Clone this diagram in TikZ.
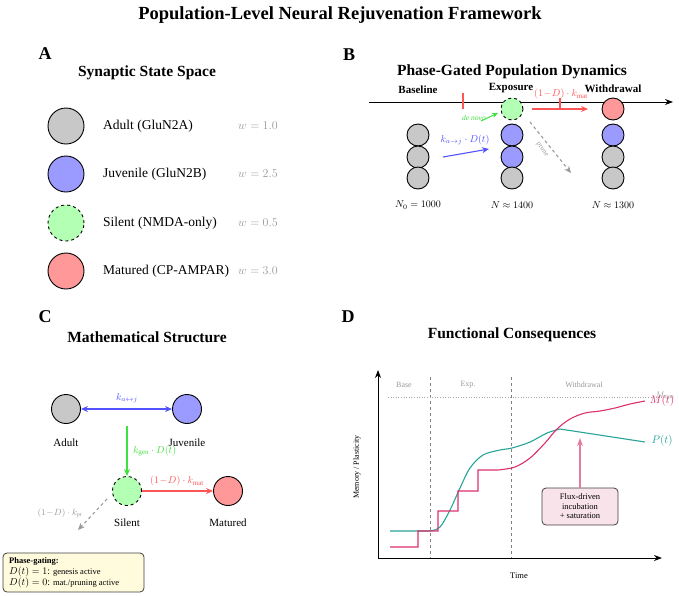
\documentclass[tikz,border=0pt]{standalone}
\usepackage{fontspec}
\setmainfont{Liberation Serif}
\usetikzlibrary{arrows.meta}
\definecolor{adultfill}{HTML}{C8C8C8}
\definecolor{juvfill}{HTML}{9B9BFF}
\definecolor{silfill}{HTML}{B3FFB3}
\definecolor{matfill}{HTML}{FF9999}
\definecolor{bluearr}{HTML}{5252FF}
\definecolor{greenarr}{HTML}{3FE03F}
\definecolor{redarr}{HTML}{FF5555}
\definecolor{tealc}{HTML}{27A398}
\definecolor{magc}{HTML}{DC2F6E}
\definecolor{notegray}{HTML}{999999}
\definecolor{boxyellow}{HTML}{FFFBDC}
\definecolor{boxpink}{HTML}{F9E3EA}
\definecolor{pinkarr}{HTML}{E67BA0}
\newcommand\fsz[1]{\fontsize{#1}{#1}\selectfont}
\tikzset{
  panelletter/.style={font=\fsz{18}\bfseries, inner sep=0},
  paneltitle/.style={font=\fsz{15.5}\bfseries, inner sep=0},
  state/.style={circle, draw=black, line width=0.9pt, minimum size=#1, inner sep=0},
  adult/.style={state=#1, fill=adultfill},
  juv/.style={state=#1, fill=juvfill},
  sil/.style={state=#1, fill=silfill, dashed},
  mat/.style={state=#1, fill=matfill},
  legendtxt/.style={font=\fsz{13.5}, anchor=west, inner sep=0},
  weighttxt/.style={font=\fsz{12}, text=notegray, inner sep=0},
  phasetxt/.style={font=\fsz{11}\bfseries, inner sep=0},
  smalltxt/.style={font=\fsz{10}, inner sep=0},
  statelbl/.style={font=\fsz{11}, inner sep=0},
  flow/.style={-{Stealth[length=7pt,width=6pt]}, line width=1.1pt},
  phasetick/.style={draw=redarr, line width=1.2pt},
  notebox/.style={draw=black!75, rounded corners=4pt, line width=0.8pt},
  plotlbl/.style={font=\fsz{8}, text=notegray, inner sep=0},
}
\begin{document}
\begin{tikzpicture}[x=1pt,y=-1pt]
\useasboundingbox (0,0) rectangle (679,595);

% ---------- title ----------
\node[font=\fsz{18.5}\bfseries, inner sep=0] (title) at (340,15) {Population-Level Neural Rejuvenation Framework};

% ---------- A: synaptic state space ----------
\node[panelletter] (lA) at (45,54) {A};
\node[paneltitle] (tA) at (147,73) {Synaptic State Space};
\node[adult=36] (sA) at (66,126) {};
\node[juv=36]   (sJ) at (66,174) {};
\node[sil=36]   (sS) at (66,223) {};
\node[mat=36]   (sM) at (66,271) {};
\node[legendtxt] (lbA) at (103,126) {Adult (GluN2A)};
\node[legendtxt] (lbJ) at (103,174) {Juvenile (GluN2B)};
\node[legendtxt] (lbS) at (103,223) {Silent (NMDA-only)};
\node[legendtxt] (lbM) at (103,271) {Matured (CP-AMPAR)};
\node[weighttxt] (wA) at (258,126) {$w = 1.0$};
\node[weighttxt] (wJ) at (258,174) {$w = 2.5$};
\node[weighttxt] (wS) at (258,223) {$w = 0.5$};
\node[weighttxt] (wM) at (258,271) {$w = 3.0$};

% ---------- B: phase-gated population dynamics ----------
\node[panelletter] (lB) at (349,55) {B};
\node[paneltitle] (tB) at (512,72) {Phase-Gated Population Dynamics};
\coordinate (axL) at (369,102);
\coordinate (axR) at (673,102);
\draw[-{Stealth[length=8pt,width=6pt]}, line width=1pt] (axL) -- (axR);
\node[phasetxt] (phB) at (418,90) {Baseline};
\node[phasetxt] (phE) at (511,88) {Exposure};
\node[phasetxt] (phW) at (613,89) {Withdrawal};
\coordinate (tk1a) at (463,93);  \coordinate (tk1b) at (463,109);
\coordinate (tk2a) at (560,98);  \coordinate (tk2b) at (560,110);
\draw[phasetick] (tk1a) -- (tk1b);

% baseline column
\node[adult=22] (b1) at (418,135) {};
\node[adult=22] (b2) at (418,157) {};
\node[adult=22] (b3) at (418,178) {};
% exposure column
\node[sil=22]   (e0) at (512,109) {};
\node[juv=22]   (e1) at (512,135) {};
\node[juv=22]   (e2) at (512,157) {};
\node[adult=22] (e3) at (512,178) {};
% withdrawal column
\node[mat=22]   (w0) at (613,109) {};
\node[juv=22]   (w1) at (613,135) {};
\node[adult=22] (w2) at (613,157) {};
\node[adult=22] (w3) at (613,178) {};

\node[smalltxt] (nB) at (418,205) {$N_0 = 1000$};
\node[smalltxt] (nE) at (512,205) {$N \approx 1400$};
\node[smalltxt] (nW) at (613,205) {$N \approx 1300$};

% transitions
\coordinate (dn0) at (481,121);
\coordinate (dn1) at (498,113);
\node[font=\fsz{7.5}\itshape, text=greenarr, inner sep=0] (dnl) at (474,118) {de novo};
\draw[greenarr, -{Stealth[length=6pt,width=5pt]}, line width=1pt] (dn0) -- (dn1);
\coordinate (aj0) at (443,157);
\coordinate (aj1) at (489,149);
\draw[bluearr, flow] (aj0) -- (aj1);
\node[smalltxt, text=bluearr] (ajl) at (465,140) {$k_{a\to j}\cdot D(t)$};
\coordinate (mt0) at (532,109);
\coordinate (mt1) at (588,109);
\draw[redarr, flow] (mt0) -- (mt1);
\node[smalltxt, text=redarr] (mtl) at (561,94) {$(1\!-\!D)\cdot k_{\mathrm{mat}}$};
\draw[phasetick] (tk2a) -- (tk2b);
\coordinate (pr0) at (530,122);
\coordinate (pr1) at (571,173);
\draw[notegray, dashed, flow] (pr0) -- (pr1);
\node[font=\fsz{7}, text=notegray, rotate=-55, inner sep=0] (prl) at (542,150) {prune};

% ---------- C: mathematical structure ----------
\node[panelletter] (lC) at (45,317) {C};
\node[paneltitle] (tC) at (147,337) {Mathematical Structure};
\node[adult=29] (cA) at (66,409) {};
\node[juv=29]   (cJ) at (187,409) {};
\node[sil=29]   (cS) at (127,491) {};
\node[mat=29]   (cM) at (228,491) {};
\node[statelbl] (clA) at (66,443) {Adult};
\node[statelbl] (clJ) at (187,443) {Juvenile};
\node[statelbl] (clS) at (127,523) {Silent};
\node[statelbl] (clM) at (228,523) {Matured};

\draw[bluearr, {Stealth[length=7pt,width=6pt]}-{Stealth[length=7pt,width=6pt]}, line width=1.1pt] (cA) -- (cJ);
\node[smalltxt, text=bluearr] (cajl) at (127,398) {$k_{a\leftrightarrow j}$};
\coordinate (gen0) at (127,426);
\draw[greenarr, flow] (gen0) -- (cS);
\node[smalltxt, text=greenarr, anchor=west] (genl) at (133,451) {$k_{\mathrm{gen}}\cdot D(t)$};
\draw[redarr, flow] (cS) -- (cM);
\node[smalltxt, text=redarr] (cmtl) at (177,481) {$(1\!-\!D)\cdot k_{\mathrm{mat}}$};
\coordinate (cpr0) at (107,499);
\coordinate (cpr1) at (78,530);
\draw[notegray, dashed, flow] (cpr0) -- (cpr1);
\node[font=\fsz{9}, text=notegray, inner sep=0] (cprl) at (60,513) {$(1\!-\!D)\cdot k_{\mathrm{pr}}$};

\draw[notebox, fill=boxyellow] (3,553) rectangle (144,592);
\node[font=\fsz{8.5}\bfseries, anchor=west, inner sep=0] (pg0) at (9,561) {Phase-gating:};
\node[font=\fsz{8.5}, anchor=west, inner sep=0] (pg1) at (9,572) {{\fsz{10}$D(t) = 1$:} genesis active};
\node[font=\fsz{8.5}, anchor=west, inner sep=0] (pg2) at (9,583) {{\fsz{10}$D(t) = 0$:} mat./pruning active};

% ---------- D: functional consequences ----------
\node[panelletter] (lD) at (348,317) {D};
\node[paneltitle] (tD) at (512,335) {Functional Consequences};
\coordinate (org) at (378,558);
\coordinate (ytop) at (378,370);
\coordinate (xend) at (662,558);

% phase separators and threshold
\draw[gray, dashed, line width=0.6pt] (430,377) -- (430,558);
\draw[gray, dashed, line width=0.6pt] (511,377) -- (511,558);
\draw[gray!70, dotted, line width=0.6pt] (388,397) -- (662,397);
\node[plotlbl] (dB) at (404,385) {Base};
\node[plotlbl] (dE) at (468,385) {Exp.};
\node[plotlbl] (dW) at (584,385) {Withdrawal};
\node[font=\fsz{8}, text=notegray, inner sep=0] (mmax) at (665,395) {$M_{\max}$};

% plasticity P(t)
\draw[tealc, line width=1.1pt] (390,531) -- (430,531)
  plot[smooth, tension=0.55] coordinates {(430,531) (440,527) (450,510) (460,488) (470,468) (483,455) (500,450) (512,448) (530,442) (547,433) (560,429)}
  -- (645,442);
% memory M(t)
\draw[magc, line width=1.1pt] (390,547) -- (418,547) -- (418,531) -- (438,531) -- (438,511) -- (458,511) -- (458,491) -- (478,491) -- (478,470) -- (498,470)
  plot[smooth, tension=0.55] coordinates {(498,470) (515,467) (530,458) (545,443) (557,429) (570,419) (585,413) (600,411) (615,408) (630,404) (645,401)};
\node[font=\fsz{11}, text=magc, inner sep=0] (mlbl) at (662,401) {$M(t)$};
\node[font=\fsz{11}, text=tealc, inner sep=0] (plbl) at (662,441) {$P(t)$};

% axes
\draw[-{Stealth[length=8pt,width=6pt]}, line width=1pt] (org) -- (ytop);
\draw[-{Stealth[length=8pt,width=6pt]}, line width=1pt] (org) -- (xend);
\node[font=\fsz{8}, rotate=90, inner sep=0] (ylab) at (357,467) {Memory / Plasticity};
\node[font=\fsz{8.5}, inner sep=0] (xlab) at (519,576) {Time};

% annotation
\node[notebox, fill=boxpink, minimum width=76pt, minimum height=37pt, align=center, font=\fsz{8.5}, inner sep=1pt] (flux) at (580,506.5) {Flux-driven\\[1pt]incubation\\[1pt]+ saturation};
\coordinate (fluxtip) at (580,438);
\draw[pinkarr, -{Stealth[length=8pt,width=6pt]}, line width=1.2pt] (flux) -- (fluxtip);
\end{tikzpicture}
\end{document}
